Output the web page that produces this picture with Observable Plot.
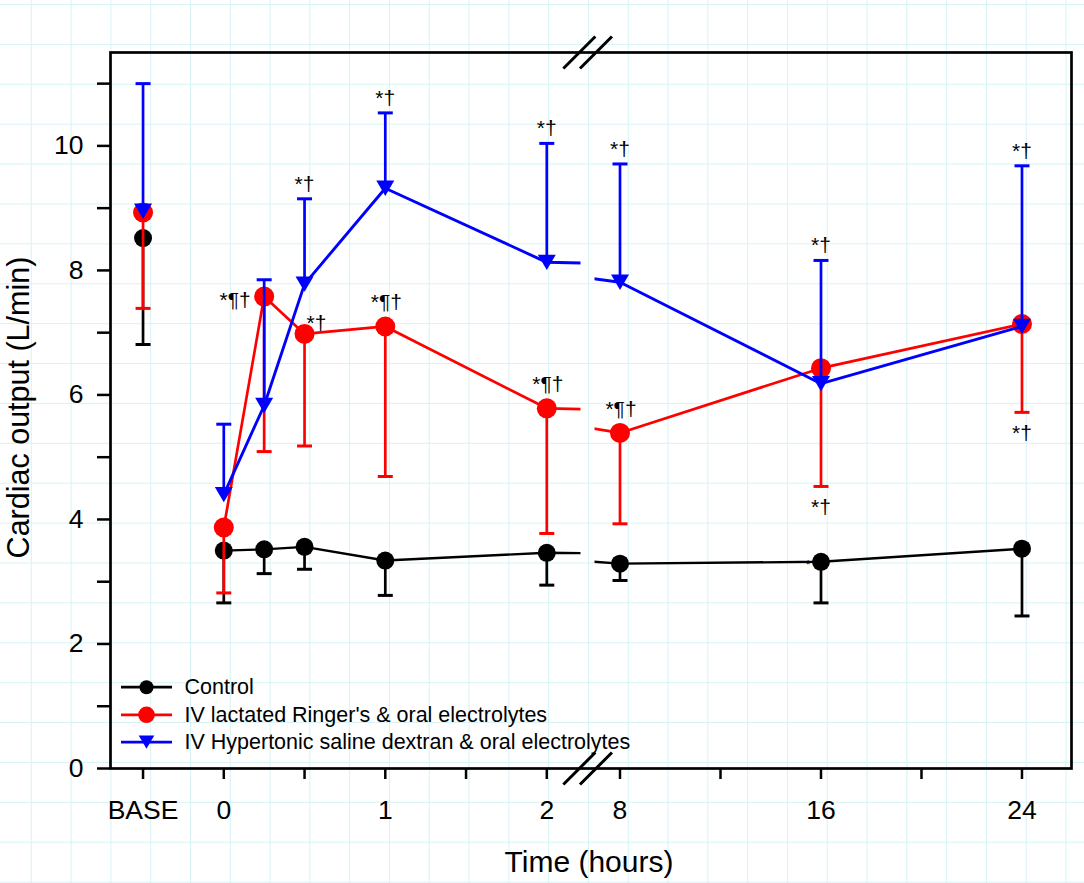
<!DOCTYPE html>
<html>
<head>
<meta charset="utf-8">
<script src="https://cdn.jsdelivr.net/npm/d3@7"></script>
<script src="https://cdn.jsdelivr.net/npm/@observablehq/plot@0.6"></script>
<style>
  html, body { margin: 0; padding: 0; background: #ffffff; }
  body {
    width: 1084px; height: 883px; overflow: hidden;
    background-image:
      linear-gradient(90deg, #d6f3f6 1px, transparent 1px),
      linear-gradient(180deg, #d6f3f6 1px, transparent 1px);
    background-size: 39.8px 39.9px;
    background-position: 70.6px 4px;
  }
  #chart svg { display: block; }
</style>
</head>
<body>
<div id="chart"></div>
<script>
// ---------------- DATA ----------------
const timeLabels = ["BASE", "0", "0.25", "0.5", "1", "2", "8", "16", "24"];
const hours      = [null, 0, 0.25, 0.5, 1, 2, 8, 16, 24];

const controlMean = [8.52, 3.50, 3.52, 3.56, 3.34, 3.465, 3.29, 3.32, 3.53];
const controlSD   = [1.71, 0.84, 0.39, 0.36, 0.56, 0.52, 0.27, 0.66, 1.08];

const lrMean = [8.93, 3.87, 7.58, 6.98, 7.10, 5.785, 5.39, 6.43, 7.14];
const lrSD   = [1.54, 1.05, 2.49, 1.80, 2.41, 2.01, 1.46, 1.90, 1.42];

const hsdMean = [8.95, 4.40, 5.83, 7.78, 9.32, 8.13, 7.81, 6.18, 7.10];
const hsdSD   = [2.05, 1.13, 2.02, 1.37, 1.21, 1.91, 1.90, 1.98, 2.58];

const seriesNames = [
  "Control",
  "IV lactated Ringer's & oral electrolytes",
  "IV Hypertonic saline dextran & oral electrolytes"
];

const xTickValues = ["BASE", 0, 0.5, 1, 1.5, 2, 8, 12, 16, 20, 24];
const xTickLabels = ["BASE", "0", "", "1", "", "2", "8", "", "16", "", "24"];
const yTickValues = [0, 1, 2, 3, 4, 5, 6, 7, 8, 9, 10, 11];

// significance annotations
const annSeries = [1, 2, 1, 2, 1, 1, 2, 2, 1, 2, 1, 2, 1, 0];
const annHour   = [0.25, 0.5, 0.5, 1, 1, 2, 2, 8, 8, 16, 16, 24, 24, 16];
const annText   = ["*¶†", "*†", "*†", "*†", "*¶†", "*¶†", "*†", "*†", "*¶†", "*†", "*†", "*†", "*†", "*"];
const annPlace  = ["left", "cap", "right", "cap", "point", "point", "cap", "cap", "point", "cap", "cap", "cap", "cap", "small"];

const xTitle = "Time (hours)";
const yTitle = "Cardiac output (L/min)";

// ---------------- LAYOUT ----------------
const W = 1084, H = 883;
const mL = 110, mR = 13, mT = 52, mB = 115;
const FONT = "'Liberation Sans', Arial, Helvetica, sans-serif";

// broken time axis: early segment in hours, late segment compressed
const uBase = -0.5;
const lateOrigin = 2.4533;   // axis unit position of 8 h
const lateRate = 0.15557;    // axis units per hour after the break
const uLate = h => lateOrigin + (h - 8) * lateRate;
const uPos = h => h === null ? uBase : (h <= 2 ? h : uLate(h));
const xDomain = [-0.7015, 5.249];
const clipEarly = 2.2087, clipLate = 2.2954, uBreak = 2.253;

const capSym = { draw(ctx, size) { const r = Math.sqrt(size / Math.PI); ctx.moveTo(-r, 0); ctx.lineTo(r, 0); } };
const triDown = { draw(ctx, size) { const r = Math.sqrt(size / Math.PI), h = 0.85 * r; ctx.moveTo(-r, -h); ctx.lineTo(r, -h); ctx.lineTo(0, h); ctx.closePath(); } };
const breakSym = { draw(ctx, size) { const r = Math.sqrt(size / Math.PI);
  ctx.moveTo(-1.52 * r, r); ctx.lineTo(0.48 * r, -r);
  ctx.moveTo(-0.48 * r, r); ctx.lineTo(1.52 * r, -r); } };

const series = [
  { name: seriesNames[0], mean: controlMean, sd: controlSD, dir: -1, color: "#000000", symbol: "circle", r: 9, lineW: 2.4, legR: 7 },
  { name: seriesNames[1], mean: lrMean, sd: lrSD, dir: -1, color: "#ff0000", symbol: "circle", r: 10, lineW: 2.7, legR: 8.3 },
  { name: seriesNames[2], mean: hsdMean, sd: hsdSD, dir: 1, color: "#0000ff", symbol: triDown, r: 9, lineW: 2.9, legR: 7.8 }
];

const placeOffsets = { left: [-29, 4], right: [12, -11], point: [1, -24], capUp: [0, -15], capDown: [0, 21], small: [-13, 3] };

const rowsBySeries = series.map(s => hours.map((h, i) => ({
  h, label: timeLabels[i], u: uPos(h), mean: s.mean[i], end: s.mean[i] + s.dir * s.sd[i]
})));

function annotationMarks(si) {
  const out = [];
  annSeries.forEach((ser, k) => {
    if (ser !== si) return;
    const s = series[ser];
    const row = rowsBySeries[ser].find(d => d.h === annHour[k]);
    let place = annPlace[k];
    let yv = row.mean;
    if (place === "cap") { yv = row.end; place = s.dir > 0 ? "capUp" : "capDown"; }
    const [dx, dy] = placeOffsets[place];
    out.push(Plot.text([row], {
      x: "u", y: () => yv, text: () => annText[k],
      dx, dy, fontSize: place === "small" ? 12 : 21, fill: "#000", lineAnchor: "middle", textAnchor: "middle"
    }));
  });
  return out;
}

const marks = [];
series.forEach((s, si) => {
  const rows = rowsBySeries[si];
  const timed = rows.filter(d => d.h !== null);
  const earlyRows = timed.filter(d => d.h <= 8);
  const lateRows = timed.filter(d => d.h >= 2);
  marks.push(Plot.line(earlyRows, { x: d => d.h, y: "mean", stroke: s.color, strokeWidth: s.lineW, strokeLinejoin: "round", strokeMiterlimit: 4.01 }));
  marks.push(Plot.line(lateRows, { x: d => uLate(d.h), y: "mean", stroke: s.color, strokeWidth: s.lineW, strokeLinejoin: "round", strokeMiterlimit: 4.02 }));
  marks.push(Plot.ruleX(rows, { x: "u", y1: "mean", y2: "end", stroke: s.color, strokeWidth: 2.7 }));
  marks.push(Plot.dot(rows, { x: "u", y: "end", symbol: capSym, r: 7.5, stroke: s.color, strokeWidth: 3, fill: "none" }));
  if (si === 0) marks.push(...annotationMarks(0));
  marks.push(Plot.dot(rows, { x: "u", y: "mean", symbol: s.symbol, r: s.r, fill: s.color, stroke: "none" }));
});
marks.push(...annotationMarks(1), ...annotationMarks(2));

// frame, axes, break marks
marks.push(Plot.frame({ stroke: "#000", strokeWidth: 2.7 }));
const xTickPos = xTickValues.map(v => v === "BASE" ? uBase : uPos(v));
const xLabelMap = new Map(xTickPos.map((p, i) => [p, xTickLabels[i]]));
marks.push(Plot.axisX({ ticks: xTickPos, tickFormat: d => xLabelMap.get(d) ?? "", tickSize: 11, tickPadding: 21, fontSize: 26.5, strokeWidth: 2.5, label: null }));
marks.push(Plot.axisY({ ticks: yTickValues, tickFormat: d => d % 2 ? "" : String(d), tickSize: 13, tickPadding: 14, fontSize: 26.5, strokeWidth: 2.5, label: null }));
marks.push(Plot.dot([0, 11.5], { x: () => uBreak, y: d => d, symbol: breakSym, r: 16, stroke: "#000", strokeWidth: 3, fill: "none" }));

// axis titles
marks.push(Plot.text([yTitle], { frameAnchor: "left", dx: -91.5, dy: -3, rotate: -90, fontSize: 30.5, fill: "#000", lineAnchor: "middle", textAnchor: "middle" }));
marks.push(Plot.text([xTitle], { frameAnchor: "bottom", dx: -2, dy: 94, fontSize: 30, fill: "#000", lineAnchor: "middle", textAnchor: "middle" }));

// legend inside the frame (bottom-left)
const legendDy = [-81.3, -53.7, -26.3];
series.forEach((s, i) => {
  marks.push(Plot.dot([s.name], { frameAnchor: "bottom-left", dx: 36, dy: legendDy[i], symbol: capSym, r: 25.5, stroke: s.color, strokeWidth: 2.7, fill: "none" }));
  marks.push(Plot.dot([s.name], { frameAnchor: "bottom-left", dx: 36, dy: legendDy[i], symbol: s.symbol, r: s.legR, fill: s.color, stroke: "none" }));
  marks.push(Plot.text([s.name], { frameAnchor: "bottom-left", dx: 74, dy: legendDy[i], text: d => d, textAnchor: "start", lineAnchor: "middle", fontSize: 21.5, fill: "#000" }));
});

const svg = Plot.plot({
  width: W, height: H,
  marginLeft: mL, marginRight: mR, marginTop: mT, marginBottom: mB,
  style: { background: "transparent", fontFamily: FONT, color: "#000", overflow: "visible" },
  x: { type: "linear", domain: xDomain },
  y: { type: "linear", domain: [0, 11.5] },
  marks
});

// clip line pieces on each side of the axis break
const xs = svg.scale("x");
const ns = "http://www.w3.org/2000/svg";
const defs = document.createElementNS(ns, "defs");
function addClip(id, a, b) {
  const cp = document.createElementNS(ns, "clipPath");
  cp.setAttribute("id", id);
  const r = document.createElementNS(ns, "rect");
  r.setAttribute("x", a); r.setAttribute("y", 0);
  r.setAttribute("width", b - a); r.setAttribute("height", H);
  cp.appendChild(r); defs.appendChild(cp);
}
addClip("clip-early", 0, xs.apply(clipEarly));
addClip("clip-late", xs.apply(clipLate), W + 600);
svg.insertBefore(defs, svg.firstChild);
svg.querySelectorAll('[stroke-miterlimit="4.01"]').forEach(g => g.setAttribute("clip-path", "url(#clip-early)"));
svg.querySelectorAll('[stroke-miterlimit="4.02"]').forEach(g => g.setAttribute("clip-path", "url(#clip-late)"));
svg.style.overflow = "hidden";

document.getElementById("chart").appendChild(svg);
</script>
</body>
</html>
